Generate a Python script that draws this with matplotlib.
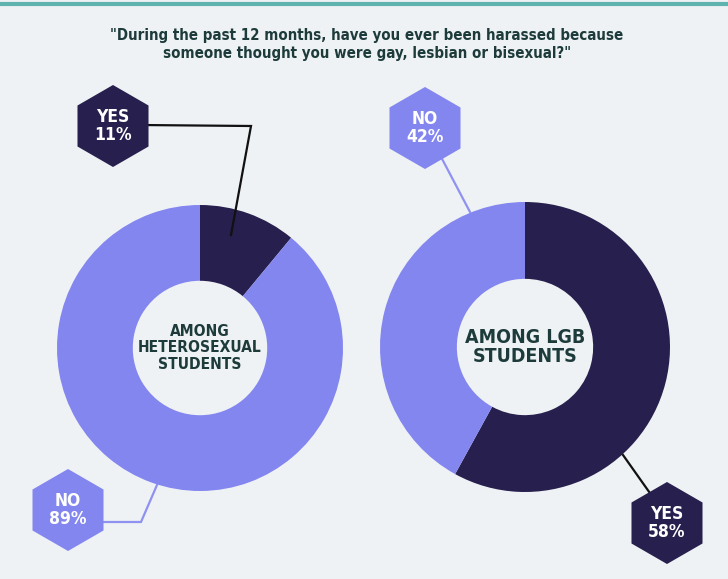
import matplotlib.pyplot as plt
from matplotlib.patches import RegularPolygon

# data
title = '"During the past 12 months, have you ever been harassed because\nsomeone thought you were gay, lesbian or bisexual?"'
groups = ['AMONG\nHETEROSEXUAL\nSTUDENTS', 'AMONG LGB\nSTUDENTS']
answers = ['YES', 'NO']
hetero_pct = [11, 89]
lgb_pct = [58, 42]

W, H = 728, 579
BG = '#eef2f4'
LIGHT = '#8386ef'
DARK = '#271f4d'
TEXT = '#1e3b3b'
FONT = dict(family='DejaVu Sans', fontstretch='condensed', fontweight='bold')

fig = plt.figure(figsize=(W / 100, H / 100), dpi=100)
fig.patch.set_facecolor(BG)

# pixel overlay (image coords, y down)
ov = fig.add_axes([0, 0, 1, 1], zorder=3)
ov.set_xlim(0, W)
ov.set_ylim(H, 0)
ov.axis('off')
ov.patch.set_alpha(0)

ov.plot([0, W], [4, 4], color='#5fb3ae', lw=3, solid_capstyle='butt')
ov.text(367, 28, title, ha='center', va='top', fontsize=10.8, color=TEXT,
        linespacing=1.25, **FONT)


def donut(cx, cy, r, pct, label, fs, ls):
    ax = fig.add_axes([(cx - r) / W, (H - cy - r) / H, 2 * r / W, 2 * r / H], zorder=2)
    ax.pie(pct, colors=[DARK, LIGHT], startangle=90, counterclock=False,
           wedgeprops=dict(width=0.53, linewidth=0))
    ax.set_xlim(-1, 1)
    ax.set_ylim(-1, 1)
    ax.axis('off')
    ax.text(0, 0, label, ha='center', va='center', fontsize=fs, color=TEXT,
            linespacing=ls, **FONT)


donut(200, 348, 143, hetero_pct, groups[0], 11.2, 1.1)
donut(525, 347, 145, lgb_pct, groups[1], 14, 1.05)


def hexlabel(cx, cy, answer, pct, color, linecolor, line):
    xs, ys = line
    ov.plot(xs, ys, color=linecolor, lw=1.6, zorder=4, solid_joinstyle='miter')
    ov.add_patch(RegularPolygon((cx, cy), 6, radius=41, orientation=0,
                                facecolor=color, edgecolor='none', zorder=5))
    ov.text(cx, cy, f'{answer}\n{pct}%', ha='center', va='center', fontsize=12.5,
            color='white', linespacing=1.05, zorder=6, **FONT)


hexlabel(113, 126, answers[0], hetero_pct[0], DARK, '#111111', ([140, 251, 231], [125, 126, 235]))
hexlabel(68, 510, answers[1], hetero_pct[1], LIGHT, '#8f92f0', ([100, 141, 157], [522, 522, 485]))
hexlabel(425, 128, answers[1], lgb_pct[1], LIGHT, '#8f92f0', ([440, 470], [155, 212]))
hexlabel(667, 523, answers[0], lgb_pct[0], DARK, '#111111', ([623, 652], [455, 496]))

fig.savefig('out.png', dpi=100, facecolor=BG)
